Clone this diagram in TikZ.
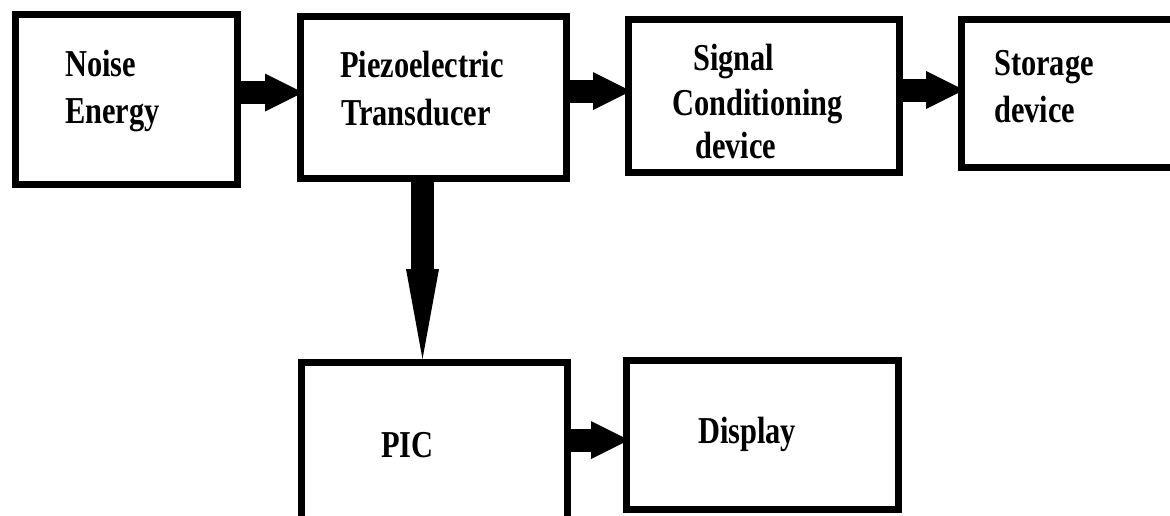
\documentclass[tikz,border=0pt]{standalone}
\usepackage{fontspec}
\setmainfont{Liberation Serif}[FakeStretch=0.8]
\usetikzlibrary{arrows.meta}

\tikzset{
    blockbox/.style={draw, line width=7pt, inner sep=0pt},
    blocktext/.style={anchor=base west, inner sep=0pt, font=\fontsize{38}{46}\selectfont\bfseries},
    fatarrow/.style={line width=23pt, -{Triangle[length=38pt, width=38pt, line width=0pt]}, shorten >=-6pt},
    fatdown/.style={line width=23pt, -{Triangle[length=90pt, width=33pt, line width=0pt]}}
}

\begin{document}
\begin{tikzpicture}[x=1pt, y=-1pt]
            \useasboundingbox (0,0) rectangle (1170,515);
            \fill[white] (0,0) rectangle (1170,515);
            \clip (0,0) rectangle (1170,515);

            % the six blocks
            \foreach \name/\x/\y/\w/\h in {noise/126.5/99.5/222/170, piezo/433.5/97.5/266/162,
                    signal/764/96/271/153, storage/1111.5/93.5/300/148,
                    pic/434.5/471.25/266/217.5, display/762.5/435/272/149} {
                \node[blockbox, minimum width=\w pt, minimum height=\h pt] (\name) at (\x, \y) {};
            }

            % texts, line by line
            \foreach \x/\y/\t [count=\i] in {65/76/Noise, 65/123/Energy,
                    340/77/Piezoelectric, 341/125/Transducer,
                    693/70/Signal, 672/115/Conditioning, 695/158/device,
                    994/75/Storage, 994/122/device,
                    381/457/PIC, 698/443/Display} {
                \node[blocktext] (txt\i) at (\x, \y) {\t};
            }

            \draw[fatarrow] ([yshift=7pt]noise.east) -- ([yshift=5pt]piezo.west);
            \draw[fatarrow] ([yshift=6.5pt]piezo.east) -- ([yshift=5pt]signal.west);
            \draw[fatarrow] ([yshift=6pt]signal.east) -- ([yshift=3.5pt]storage.west);
            \draw[fatdown] ([xshift=-11pt]piezo.south) -- ([xshift=-12pt]pic.north);
            \draw[fatarrow] ([yshift=31.25pt]pic.east) -- ([yshift=-5pt]display.west);
        \end{tikzpicture}
\end{document}
